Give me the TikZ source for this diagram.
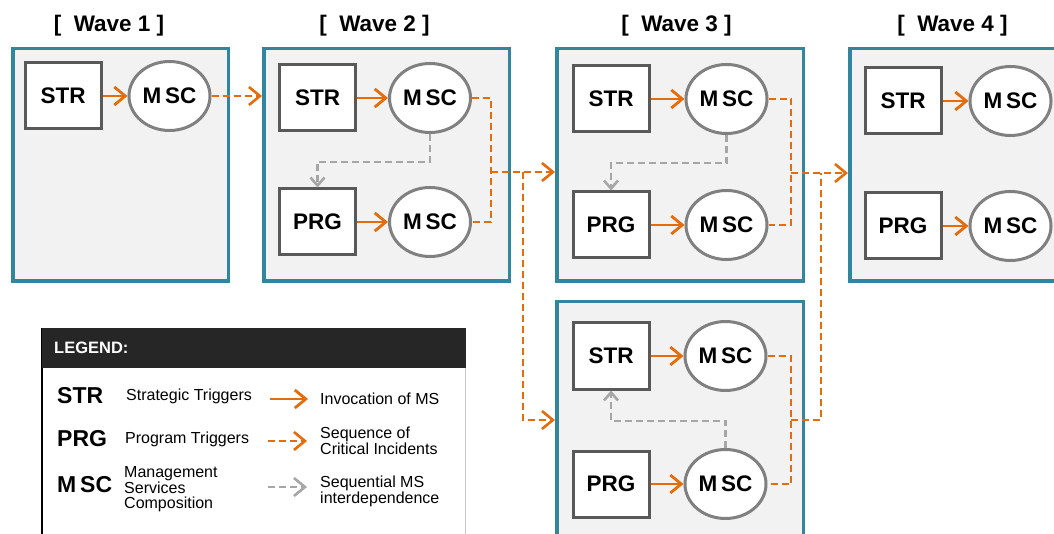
\documentclass[tikz,border=0pt]{standalone}
\usepackage{fontspec}
\setmainfont{Liberation Sans}
\usetikzlibrary{arrows.meta,positioning,shapes.geometric}

\definecolor{waveframe}{HTML}{31859C}
\definecolor{wavefill}{HTML}{F2F2F2}
\definecolor{boxframe}{HTML}{595959}
\definecolor{ellframe}{HTML}{808080}
\definecolor{incident}{HTML}{E46C0A}
\definecolor{depend}{HTML}{A6A6A6}
\definecolor{legendbar}{HTML}{262626}

\newcommand{\msc}{M\,SC}

\begin{document}
\begin{tikzpicture}[
  x=1pt, y=-1pt,
  wave/.style={draw=waveframe,fill=wavefill,line width=3.5pt},
  wavetitle/.style={inner sep=0pt,font=\fontsize{22.5}{24}\selectfont\bfseries},
  trigger/.style={draw=boxframe,fill=white,line width=3pt,
    minimum width=76pt,minimum height=66pt,inner sep=0pt,
    font=\fontsize{22.5}{24}\selectfont\bfseries},
  service/.style={ellipse,draw=ellframe,fill=white,line width=3pt,
    minimum width=81pt,minimum height=69pt,inner sep=0pt,
    font=\fontsize{22.5}{24}\selectfont\bfseries},
  invoke/.style={incident,line width=2.8pt,-{Straight Barb[length=11pt,width=18pt]}},
  sequence/.style={incident,line width=2.6pt,dash pattern=on 7pt off 4pt},
  sequencearrow/.style={sequence,-{Straight Barb[length=11pt,width=18pt]}},
  interdep/.style={depend,line width=2.6pt,dash pattern=on 7pt off 4pt,
    -{Straight Barb[length=8pt,width=14pt]}},
  legendabbr/.style={anchor=west,inner sep=0pt,font=\fontsize{23}{24}\selectfont\bfseries},
  legenddesc/.style={anchor=west,inner sep=0pt,align=left,font=\fontsize{16}{14.5}\selectfont}
]
  \useasboundingbox (0,0) rectangle (1054,534);
  \clip (0,0) rectangle (1054,534);

  % wave frames and titles
  \node[wave,minimum width=215.5pt,minimum height=232.5pt] (wave1) at (120.5,165) {};
  \node[wave,minimum width=245.5pt,minimum height=232.5pt] (wave2) at (386.5,165) {};
  \node[wave,minimum width=246.5pt,minimum height=232.5pt] (wave3) at (680,165) {};
  \node[wave,minimum width=218.5pt,minimum height=232.5pt] (wave4) at (959,165) {};
  \node[wave,minimum width=246.5pt,minimum height=236.5pt] (wave5) at (680,420) {};

  \node[wavetitle] (title1) at (109,26) {[~ Wave 1 ]};
  \node[wavetitle] (title2) at (374.5,26) {[~ Wave 2 ]};
  \node[wavetitle] (title3) at (676.5,26) {[~ Wave 3 ]};
  \node[wavetitle] (title4) at (952.5,26) {[~ Wave 4 ]};

  % wave 1
  \node[trigger] (str1) at (63,96) {STR};
  \node[service,right=25pt of str1] (msc1) {\msc};

  % wave 2
  \node[trigger] (str2) at (317.5,98) {STR};
  \node[trigger,below=55pt of str2] (prg2) {PRG};
  \node[service,right=31pt of str2] (msc2s) {\msc};
  \node[service,right=31pt of prg2] (msc2p) {\msc};

  % wave 3, upper and lower
  \node[trigger] (str3) at (611,99) {STR};
  \node[trigger,below=57pt of str3] (prg3) {PRG};
  \node[service,right=34pt of str3] (msc3s) {\msc};
  \node[service,right=34pt of prg3] (msc3p) {\msc};

  \node[trigger] (str5) at (611,356) {STR};
  \node[trigger,below=59pt of str5] (prg5) {PRG};
  \node[service,right=33pt of str5] (msc5s) {\msc};
  \node[service,right=33pt of prg5] (msc5p) {\msc};

  % wave 4
  \node[trigger] (str4) at (903,101) {STR};
  \node[trigger,below=56pt of str4] (prg4) {PRG};
  \node[service,right=26pt of str4] (msc4s) {\msc};
  \node[service,right=26pt of prg4] (msc4p) {\msc};

  % invocations
  \draw[invoke] (str1) -- (msc1);
  \draw[invoke] (str2) -- (msc2s);
  \draw[invoke] (prg2) -- (msc2p);
  \draw[invoke] (str3) -- (msc3s);
  \draw[invoke] (prg3) -- (msc3p);
  \draw[invoke] (str5) -- (msc5s);
  \draw[invoke] (prg5) -- (msc5p);
  \draw[invoke] (str4) -- (msc4s);
  \draw[invoke] (prg4) -- (msc4p);

  % sequential interdependence
  \draw[interdep] (msc2s.south) -- ++(0,28) -| (prg2.north);
  \draw[interdep] (msc3s.south) -- ++(0,28) -| (prg3.north);
  \draw[interdep] (msc5p.north) -- ++(0,-27) -| (str5.south);

  % sequence of critical incidents
  \coordinate (join2) at (491,172);
  \coordinate (drop2) at (523,172);
  \coordinate (join3) at (791,173);
  \coordinate (join5) at (791,420);
  \coordinate (rise5) at (821,173);

  \draw[sequencearrow] (msc1) -- (msc1 -| wave2.west);
  \draw[sequence] (msc2s.east) -| (join2) |- (msc2p.east);
  \draw[sequencearrow] (join2) -- (join2 -| wave3.west);
  \draw[sequencearrow] (drop2) |- (wave5.west);
  \draw[sequence] (msc3s.east) -| (join3) |- (msc3p.east);
  \draw[sequencearrow] (join3) -- (join3 -| wave4.west);
  \draw[sequence] (msc5s.east) -| (join5) |- (msc5p.east);
  \draw[sequence] (join5) -| (rise5);

  % legend
  \node[draw=gray!45,fill=white,line width=1pt,minimum width=423pt,minimum height=216pt] (legend) at (254,436.5) {};
  \draw[line width=2.5pt] (legend.north west) -- (legend.south west);
  \node[anchor=north west,fill=legendbar,text=white,minimum height=40pt,
    text width=400pt,inner xsep=12pt,align=left,
    font=\fontsize{16.5}{18}\selectfont\bfseries] (legendhead) at (legend.north west) {LEGEND:};

  \node[legendabbr] (kstr) at (57,396) {STR};
  \node[legendabbr] (kprg) at (57,439) {PRG};
  \node[legendabbr] (kmsc) at (57,485) {\msc};
  \node[legenddesc] (dstr) at (126,396) {Strategic Triggers};
  \node[legenddesc] (dprg) at (125,439) {Program Triggers};
  \node[legenddesc] (dmsc) at (124,489) {Management\\Services\\Composition};

  \node[legenddesc] (tinv) at (320,399) {Invocation of MS};
  \node[legenddesc] (tseq) at (320,441) {Sequence of\\Critical Incidents};
  \node[legenddesc] (tdep) at (320,491) {Sequential MS\\interdependence};

  \draw[invoke] ([xshift=-50pt]tinv.west) -- ([xshift=-12pt]tinv.west);
  \draw[sequencearrow] ([xshift=-52pt]tseq.west |- 0,441) -- ([xshift=-13pt]tseq.west |- 0,441);
  \draw[interdep,-{Straight Barb[length=11pt,width=18pt]}]
    ([xshift=-52pt]tdep.west |- 0,487) -- ([xshift=-13pt]tdep.west |- 0,487);
\end{tikzpicture}
\end{document}
